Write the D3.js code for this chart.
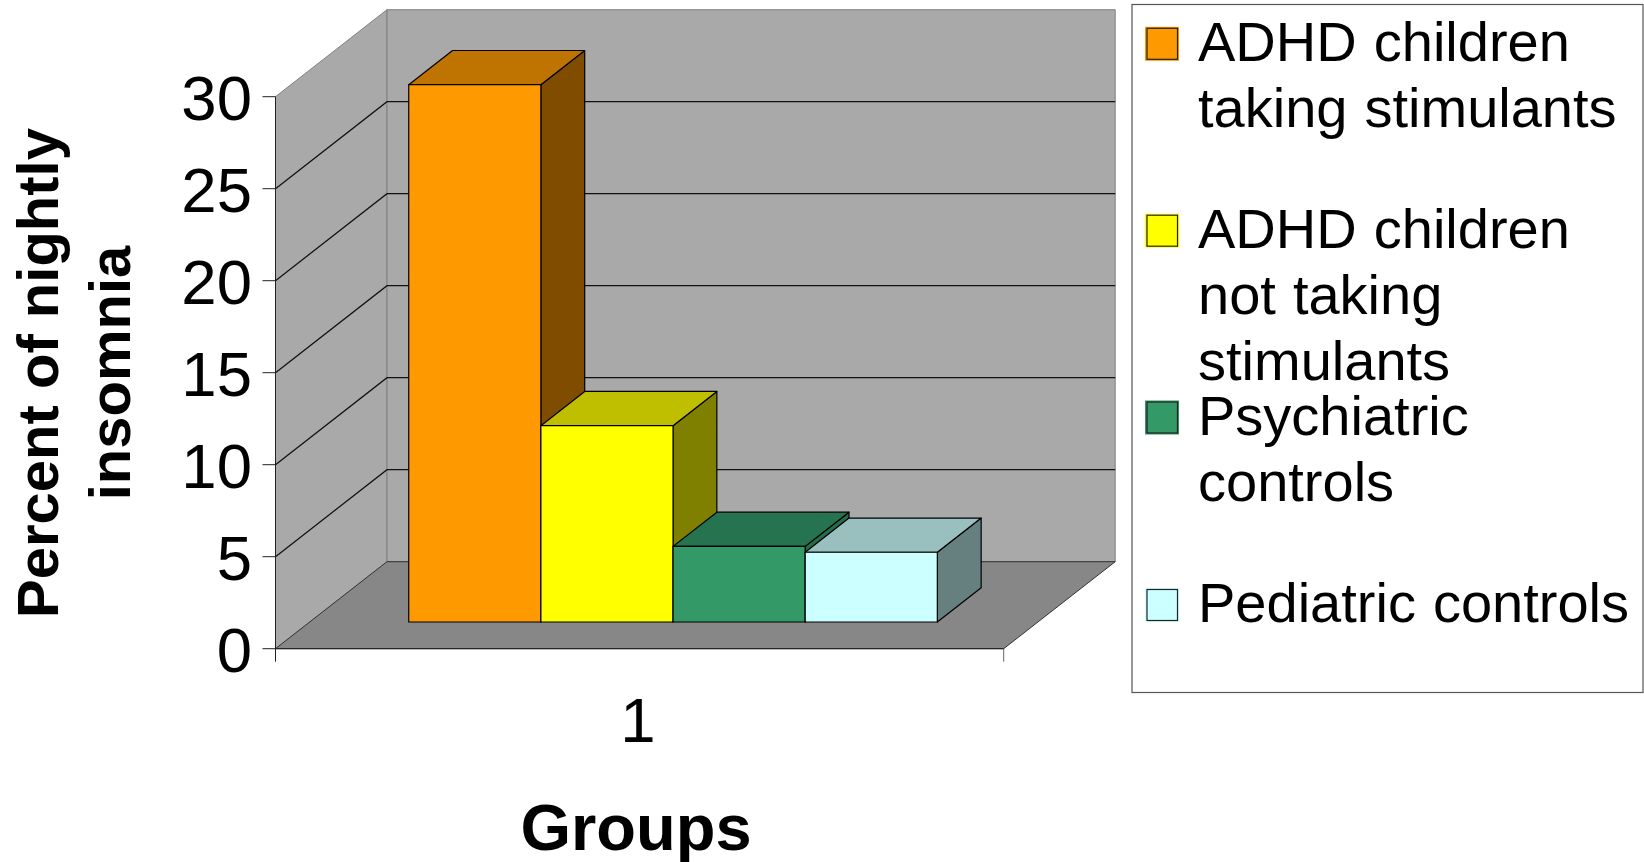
<!DOCTYPE html>
<html>
<head>
<meta charset="utf-8">
<script src="https://cdnjs.cloudflare.com/ajax/libs/d3/7.8.5/d3.min.js"></script>
<style>
  html, body { margin: 0; padding: 0; background: #fff; overflow: hidden; }
  svg { display: block; }
  text { font-family: "Liberation Sans", Arial, sans-serif; fill: #000; }
</style>
</head>
<body>
<svg id="chart" width="1644" height="862"></svg>
<script>
// Nightly insomnia by group
const groups = ["ADHD children taking stimulants", "ADHD children not taking stimulants", "Psychiatric controls", "Pediatric controls"];
const insomniaPercent = [29.2, 10.67, 4.11, 3.79];
const frontColors = ["#ff9900", "#ffff00", "#339966", "#ccffff"];
const topColors = ["#bf7300", "#bfbf00", "#267350", "#99bfbf"];
const sideColors = ["#804d00", "#808000", "#266b4a", "#668080"];
const legendLines = [
  ["ADHD children", "taking stimulants"],
  ["ADHD children", "not taking", "stimulants"],
  ["Psychiatric", "controls"],
  ["Pediatric controls"]
];
const yTicks = [0, 5, 10, 15, 20, 25, 30];
const categoryLabels = ["1"];
const yTitleLines = ["Percent of nightly", "insomnia"];
const xTitle = "Groups";

const svg = d3.select("#chart");

// Oblique projection: x along the front edge, y by value, z into the box
const xFront = d3.scaleLinear().domain([0, 1]).range([275.5, 1003.7]);
const y = d3.scaleLinear().domain([0, 30]).range([648.7, 96.7]);
const zX = d3.scaleLinear().domain([0, 1]).range([0, 111.5]);
const zY = d3.scaleLinear().domain([0, 1]).range([0, -87]);
const project = (px, value, z) => [px + zX(z), y(value) + zY(z)];
const poly = pts => d3.line()(pts) + "Z";

const xLeft = xFront(0), xRight = xFront(1);

// Walls and floor
const walls = svg.append("g");
walls.append("path")
  .attr("d", poly([project(xLeft, 0, 0), project(xLeft, 30, 0), project(xLeft, 30, 1), project(xLeft, 0, 1)]))
  .attr("fill", "#a9a9a9").attr("stroke", "#808080");
walls.append("path")
  .attr("d", poly([project(xLeft, 0, 1), project(xLeft, 30, 1), project(xRight, 30, 1), project(xRight, 0, 1)]))
  .attr("fill", "#a9a9a9").attr("stroke", "#808080");
walls.append("path")
  .attr("d", poly([project(xLeft, 0, 0), project(xLeft, 0, 1), project(xRight, 0, 1), project(xRight, 0, 0)]))
  .attr("fill", "#878787").attr("stroke", "#333");

// Gridlines wrap from the side wall onto the back wall
const grid = svg.append("g").attr("fill", "none").attr("stroke", "#111").attr("stroke-width", 1.25);
grid.selectAll("path").data(yTicks.filter(t => t > 0 && t < 30)).join("path")
  .attr("d", t => d3.line()([project(xLeft, t, 0), project(xLeft, t, 1), project(xRight, t, 1)]));

// Value axis
const axisG = svg.append("g").attr("stroke", "#222");
axisG.append("line")
  .attr("x1", xLeft).attr("x2", xLeft)
  .attr("y1", y(30)).attr("y2", y(0) + 13);
axisG.append("line")
  .attr("x1", xRight).attr("x2", xRight)
  .attr("y1", y(0)).attr("y2", y(0) + 13).attr("stroke", "#666");
axisG.append("line")
  .attr("x1", xLeft).attr("x2", xRight)
  .attr("y1", y(0)).attr("y2", y(0));
axisG.selectAll(".tick").data(yTicks).join("line")
  .attr("class", "tick")
  .attr("x1", xLeft - 13).attr("x2", xLeft)
  .attr("y1", t => y(t)).attr("y2", t => y(t));
svg.append("g").selectAll("text").data(yTicks).join("text")
  .attr("x", 252).attr("y", t => y(t) + 23)
  .attr("text-anchor", "end")
  .attr("font-size", 63.5)
  .text(d => d);

// Bars stand part way into the box and share one category slot
const band = d3.scaleBand().domain(groups).range([374.5, 903.1]);
const barZ = d3.scaleLinear().domain([0, 1]).range([0.307, 0.7]);

const bars = svg.append("g").attr("stroke", "#000").attr("stroke-width", 1.2).attr("stroke-linejoin", "round");
const barData = groups.map((g, i) => ({ g, v: insomniaPercent[i], i }));
const bar = bars.selectAll("g").data(barData).join("g");
bar.append("path").attr("class", "side")
  .attr("fill", d => sideColors[d.i])
  .attr("d", d => {
    const x1 = band(d.g) + band.bandwidth();
    return poly([project(x1, 0, barZ(0)), project(x1, d.v, barZ(0)), project(x1, d.v, barZ(1)), project(x1, 0, barZ(1))]);
  });
bar.append("path").attr("class", "top")
  .attr("fill", d => topColors[d.i])
  .attr("d", d => {
    const x0 = band(d.g), x1 = x0 + band.bandwidth();
    return poly([project(x0, d.v, barZ(0)), project(x0, d.v, barZ(1)), project(x1, d.v, barZ(1)), project(x1, d.v, barZ(0))]);
  });
bar.append("path").attr("class", "front")
  .attr("fill", d => frontColors[d.i])
  .attr("d", d => {
    const x0 = band(d.g), x1 = x0 + band.bandwidth();
    return poly([project(x0, 0, barZ(0)), project(x0, d.v, barZ(0)), project(x1, d.v, barZ(0)), project(x1, 0, barZ(0))]);
  });

// Category label and axis titles
svg.append("text").attr("x", 638).attr("y", 742)
  .attr("text-anchor", "middle").attr("font-size", 63.5).text(categoryLabels[0]);
svg.append("text").attr("x", 636).attr("y", 850)
  .attr("text-anchor", "middle").attr("font-size", 65).attr("font-weight", "bold").text(xTitle);
const titleBaselines = [57.7, 130];
svg.append("g").selectAll("text").data(yTitleLines).join("text")
  .attr("transform", (d, i) => `translate(${titleBaselines[i]},373) rotate(-90)`)
  .attr("text-anchor", "middle").attr("font-size", 58).attr("font-weight", "bold")
  .text(d => d);

// Legend
const legend = svg.append("g");
legend.append("rect")
  .attr("x", 1132).attr("y", 4.5).attr("width", 511).attr("height", 688)
  .attr("fill", "#fff").attr("stroke", "#555").attr("stroke-width", 1.2);
const entryBaselines = [60.8, 247.7, 434.5, 622];
const lineGap = 66.2;
const entry = legend.selectAll(".entry").data(legendLines).join("g").attr("class", "entry");
entry.append("rect")
  .attr("x", 1145).attr("y", (d, i) => entryBaselines[i] - 34)
  .attr("width", 34).attr("height", 34)
  .attr("fill", (d, i) => frontColors[i]);
entry.append("rect")
  .attr("x", 1147).attr("y", (d, i) => entryBaselines[i] - 32.5)
  .attr("width", 30.5).attr("height", 31)
  .attr("fill", "none")
  .attr("stroke", "#222").attr("stroke-width", 1.2);
entry.each(function (lines, i) {
  d3.select(this).selectAll("text").data(lines).join("text")
    .attr("x", 1198).attr("y", (d, j) => entryBaselines[i] + j * lineGap)
    .attr("font-size", 56)
    .attr("word-spacing", 1.5)
    .text(d => d);
});
</script>
</body>
</html>
